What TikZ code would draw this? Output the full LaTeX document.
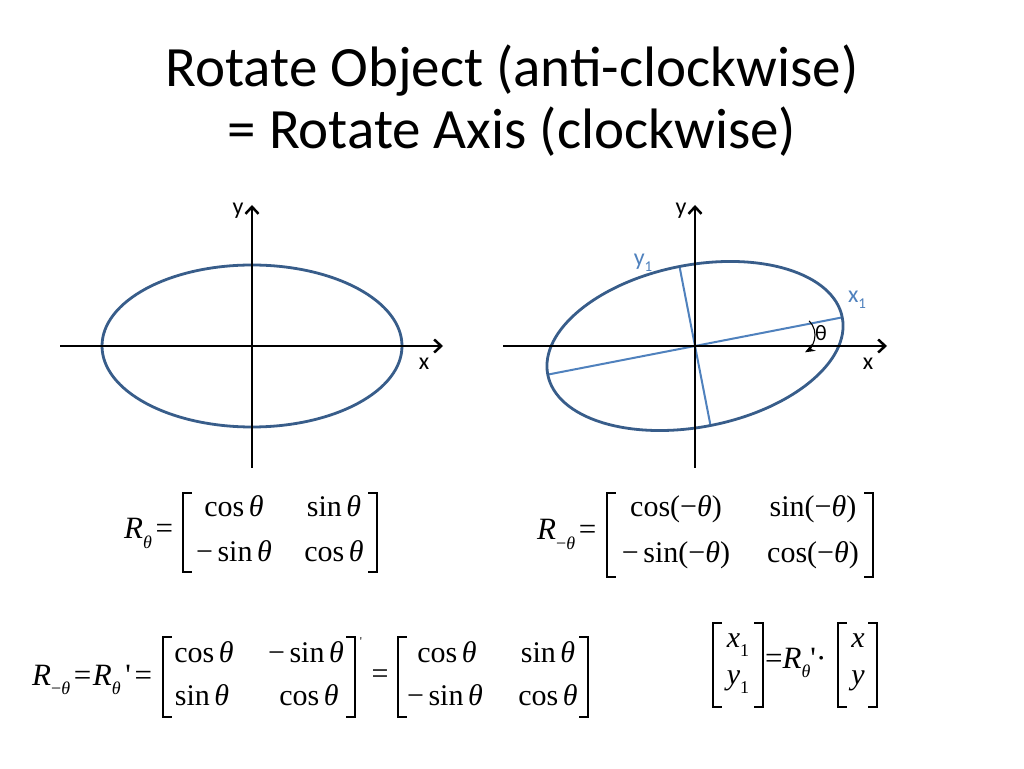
\documentclass[tikz,border=0pt]{standalone}
\usepackage{fontspec}
\setmainfont{Carlito}
\newfontfamily\tnr{Liberation Serif}
\usetikzlibrary{arrows.meta}
\definecolor{ellblue}{RGB}{56,93,138}
\definecolor{axblue}{RGB}{79,129,189}
\newcommand{\mysub}[1]{\raisebox{-0.3em}{\fontsize{18}{18}\selectfont #1}}
\newcommand{\labsub}[1]{\raisebox{-0.25em}{\fontsize{15}{15}\selectfont #1}}
\newcommand{\thet}{{\itshape θ}}
\newcommand{\cs}{cos\hspace{.15em}\thet}
\newcommand{\sn}{sin\hspace{.15em}\thet}
\newcommand{\msn}{−\hspace{.15em}sin\hspace{.15em}\thet}
\newcommand{\eqsp}{\hspace{.12em}=\hspace{.05em}}
\tikzset{
  title/.style={font=\fontsize{57}{57}\selectfont, inner sep=0},
  lab/.style={font=\fontsize{24}{24}\selectfont, inner sep=0},
  axisline/.style={line width=2.5pt, -{Straight Barb[length=7pt,width=13pt]}},
  ellline/.style={draw=ellblue, line width=2.8pt},
  rotline/.style={draw=axblue, line width=2pt},
  mtx/.style={font=\tnr\fontsize{30}{30}\selectfont, inner sep=0, anchor=base},
  eqs/.style={font=\tnr\fontsize{31}{31}\selectfont, inner sep=0, anchor=base west},
  brk/.style={line width=1.3pt, line cap=rect}
}
\newcommand{\lbr}[3]{\draw[brk] (#1+8,#2) -- (#1,#2) -- (#1,#3) -- (#1+8,#3);}
\newcommand{\rbr}[3]{\draw[brk] (#1-8,#2) -- (#1,#2) -- (#1,#3) -- (#1-8,#3);}
\begin{document}
\begin{tikzpicture}[x=1pt,y=1pt]
\useasboundingbox (0,0) rectangle (1024,768);
\fill[white] (0,0) rectangle (1024,768);

% title
\node[title] (t1) at (512,697) {Rotate Object (anti-clockwise)};
\node[title] (t2) at (512,636) {= Rotate Axis (clockwise)};

% left diagram
\coordinate (o1) at (252,422);
\coordinate (xl1) at (60,422);
\coordinate (xr1) at (443,422);
\coordinate (yb1) at (252,300);
\coordinate (yt1) at (252,563);
\draw[ellline] (o1) ellipse [x radius=150, y radius=81];
\draw[axisline] (xl1) -- (xr1);
\draw[axisline] (yb1) -- (yt1);
\node[lab] (lx1) at (424,404) {x};
\node[lab] (ly1) at (238,557) {y};

% right diagram
\coordinate (o2) at (695,422);
\coordinate (xl2) at (503,422);
\coordinate (xr2) at (887,422);
\coordinate (yb2) at (695,300);
\coordinate (yt2) at (695,563);
\coordinate (ma) at (547.8,393.4);
\coordinate (mb) at (842.2,450.6);
\coordinate (na) at (710.5,342.5);
\coordinate (nb) at (679.5,501.5);
\draw[rotline] (ma) -- (mb);
\draw[rotline] (na) -- (nb);
\draw[ellline, rotate around={11:(o2)}] (o2) ellipse [x radius=150, y radius=81];
\draw[axisline] (xl2) -- (xr2);
\draw[axisline] (yb2) -- (yt2);
\coordinate (ac) at (795,433);
\draw[line width=1.1pt, -{Stealth[length=10pt,width=8pt]}] ([shift={(45:20)}]ac) arc[start angle=45, end angle=-60, radius=20];
\node[font=\fontsize{22}{22}\selectfont, inner sep=0] (th) at (821,435) {θ};
\node[lab] (lx2) at (868,404) {x};
\node[lab] (ly2) at (681,557) {y};
\node[lab, text=axblue] (ly3) at (643,505) {y\labsub{1}};
\node[lab, text=axblue] (lx3) at (857,468) {x\labsub{1}};

% matrix R_theta
\node[eqs] (r1) at (124,229) {\itshape R\mysub{θ}\upshape\eqsp};
\node[mtx] (m1a) at (234,251) {\cs};
\node[mtx] (m1b) at (334,251) {\sn};
\node[mtx] (m1c) at (234,206) {\msn};
\node[mtx] (m1d) at (334,206) {\cs};
\lbr{183}{275}{196}
\rbr{377}{275}{196}

% matrix R_-theta
\node[eqs] (r2) at (537,228) {\itshape R\mysub{\upshape−\itshape θ}\upshape\eqsp};
\node[mtx] (m2a) at (676,251) {cos(−\thet)};
\node[mtx] (m2b) at (813,251) {sin(−\thet)};
\node[mtx] (m2c) at (676,205) {−\hspace{.15em}sin(−\thet)};
\node[mtx] (m2d) at (813,205) {cos(−\thet)};
\lbr{607}{275}{191}
\rbr{873}{275}{191}

% transpose equation
\node[eqs] (r3) at (32,83) {\itshape R\mysub{\upshape−\itshape θ}\upshape\eqsp\itshape R\mysub{θ}\upshape\hspace{.15em}'\eqsp};
\node[mtx] (m3a) at (204,106) {\cs};
\node[mtx] (m3b) at (306,106) {\msn};
\node[mtx] (m3c) at (202,63) {\sn};
\node[mtx] (m3d) at (309,63) {\cs};
\lbr{163}{131}{51}
\rbr{355}{131}{51}
\node[font=\tnr\fontsize{12}{12}\selectfont, inner sep=0] (p3) at (361,126) {'};
\node[mtx] (eq3) at (380,85) {=};
\node[mtx] (m4a) at (447,106) {\cs};
\node[mtx] (m4b) at (548,106) {\sn};
\node[mtx] (m4c) at (445,63) {\msn};
\node[mtx] (m4d) at (548,63) {\cs};
\lbr{398}{131}{51}
\rbr{588}{131}{51}

% coordinate transform
\node[mtx] (v1a) at (738,121) {\itshape x\mysub{\upshape 1}};
\node[mtx] (v1b) at (738,84) {\itshape y\mysub{\upshape 1}};
\lbr{713}{145}{61}
\rbr{763}{145}{61}
\node[eqs] (r5) at (765,100) {=\itshape R\mysub{θ}\upshape'·};
\node[mtx] (v2a) at (858,121) {\itshape x};
\node[mtx] (v2b) at (858,84) {\itshape y};
\lbr{838}{145}{61}
\rbr{877}{145}{61}
\end{tikzpicture}
\end{document}
